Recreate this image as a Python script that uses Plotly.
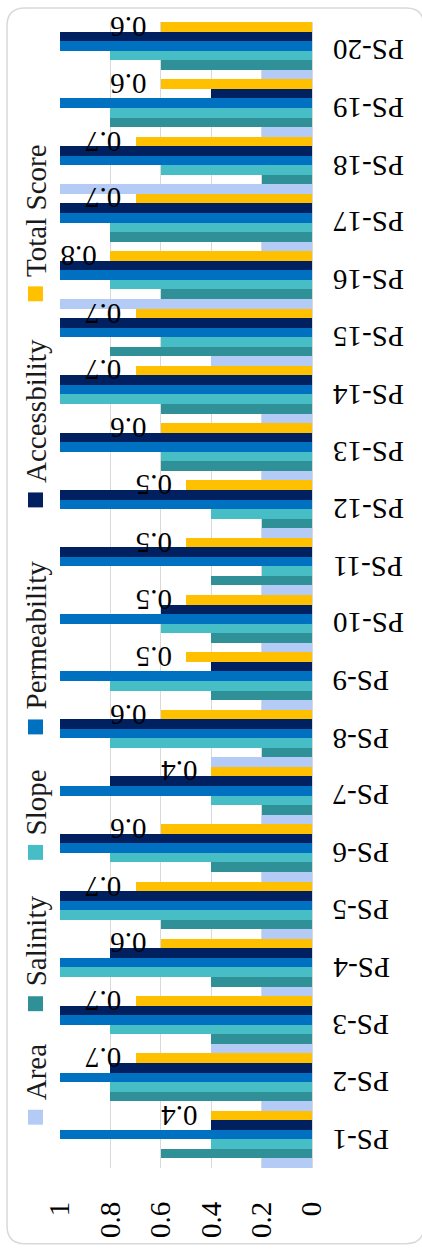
import plotly.graph_objects as go

# Site categories and criterion scores
sites = [f"PS-{i}" for i in range(1, 21)]

area = [0.2, 0.2, 0.4, 0.2, 0.2, 0.2, 0.2, 0.4, 0.2, 0.2,
        0.2, 0.2, 0.2, 0.2, 0.4, 1.0, 0.2, 1.0, 0.2, 0.2]
salinity = [0.6, 0.8, 0.4, 0.4, 0.6, 0.4, 0.2, 0.2, 0.4, 0.4,
            0.4, 0.2, 0.6, 0.6, 0.8, 0.6, 0.8, 0.2, 0.8, 0.6]
slope = [0.4, 0.8, 0.8, 1.0, 1.0, 0.8, 0.4, 0.8, 0.8, 0.6,
         0.2, 0.4, 0.6, 1.0, 0.6, 0.8, 0.8, 0.6, 0.8, 0.8]
permeability = [1.0, 1.0, 1.0, 1.0, 1.0, 1.0, 1.0, 1.0, 1.0, 1.0,
                1.0, 1.0, 1.0, 1.0, 1.0, 1.0, 1.0, 1.0, 1.0, 1.0]
accessibility = [0.4, 0.8, 1.0, 0.8, 1.0, 1.0, 0.8, 1.0, 0.4, 0.6,
                 1.0, 1.0, 1.0, 1.0, 1.0, 1.0, 1.0, 1.0, 0.4, 1.0]
total_score = [0.4, 0.7, 0.7, 0.6, 0.7, 0.6, 0.4, 0.6, 0.5, 0.5,
               0.5, 0.5, 0.6, 0.7, 0.7, 0.8, 0.7, 0.7, 0.6, 0.6]

series_names = ["Area", "Salinity", "Slope", "Permeability", "Accessbility", "Total Score"]
series_values = [area, salinity, slope, permeability, accessibility, total_score]
series_colors = ["#B4CBF6", "#2F9098", "#47BDC6", "#0070C0", "#002060", "#FFC000"]

value_ticks = [0, 0.2, 0.4, 0.6, 0.8, 1]
value_tick_text = ["0", "0.2", "0.4", "0.6", "0.8", "1"]

W, H = 422, 1250
ML, MR, MT, MB = 60, 110, 22, 77
PW, PH = W - ML - MR, H - MT - MB

FONT = "Liberation Serif"
FS = 29


def px(xp):
    return (xp - ML) / PW


def py(yp):
    return (H - MB - yp) / PH


fig = go.Figure()
for name, vals, col in zip(series_names, series_values, series_colors):
    fig.add_trace(go.Bar(
        y=sites, x=vals, name=name, orientation="h",
        marker=dict(color=col, line=dict(width=0)),
        showlegend=False,
    ))

annotations = []
n = len(series_names)
for i, (s, v) in enumerate(zip(sites, total_score)):
    # value labels just past the end of each Total Score bar, upside down
    annotations.append(dict(
        x=v, y=i + (n - 1 - (n - 1) / 2) / n, xref="x", yref="y",
        text=f"{v:g}", showarrow=False, textangle=180,
        xanchor="right", yanchor="middle", xshift=-12,
        font=dict(family=FONT, size=FS, color="#000000"),
    ))
    # category labels to the right of the plot, upside down
    annotations.append(dict(
        x=px(331), y=s, xref="paper", yref="y",
        text=s, showarrow=False, textangle=180,
        xanchor="left", yanchor="middle",
        font=dict(family=FONT, size=FS, color="#000000"),
    ))

# legend drawn as rotated entries down the left edge
legend_centers = [1122, 1008, 856, 730, 502, 295]
shapes = []
for name, col, cy in zip(series_names, series_colors, legend_centers):
    shapes.append(dict(
        type="rect", xref="paper", yref="paper",
        x0=px(28), x1=px(43), y0=py(cy + 7.5), y1=py(cy - 7.5),
        fillcolor=col, line=dict(width=0),
    ))
    annotations.append(dict(
        x=px(36), y=py(cy - 15), xref="paper", yref="paper",
        text=name, showarrow=False, textangle=-90,
        xanchor="center", yanchor="bottom",
        font=dict(family=FONT, size=FS, color="#1a1a1a"),
    ))

# rounded chart frame
L, T, R, B, r = 7, 8, 424, 1249, 18
frame = (f"M {px(L + r)} {py(T)} L {px(R - r)} {py(T)} "
         f"Q {px(R)} {py(T)} {px(R)} {py(T + r)} "
         f"L {px(R)} {py(B - r)} Q {px(R)} {py(B)} {px(R - r)} {py(B)} "
         f"L {px(L + r)} {py(B)} Q {px(L)} {py(B)} {px(L)} {py(B - r)} "
         f"L {px(L)} {py(T + r)} Q {px(L)} {py(T)} {px(L + r)} {py(T)} Z")
shapes.append(dict(type="path", xref="paper", yref="paper", path=frame,
                   line=dict(color="#D9D9D9", width=1.5), layer="below"))

fig.update_layout(
    width=W, height=H, autosize=False,
    margin=dict(l=ML, r=MR, t=MT, b=MB, pad=0),
    paper_bgcolor="white", plot_bgcolor="white",
    barmode="group", bargap=0, bargroupgap=0,
    shapes=shapes, annotations=annotations,
    font=dict(family=FONT, size=FS, color="#000000"),
    xaxis=dict(
        range=[1, 0], tickvals=value_ticks, ticktext=value_tick_text,
        tickangle=-90, showgrid=True, gridcolor="#D9D9D9", gridwidth=1,
        zeroline=True, zerolinecolor="#D9D9D9", zerolinewidth=1,
        showline=False, ticks="", ticklabelstandoff=27,
        tickfont=dict(family=FONT, size=FS, color="#000000"),
    ),
    yaxis=dict(
        type="category", categoryorder="array", categoryarray=sites,
        range=[-0.5, len(sites) - 0.5], side="right",
        showgrid=False, zeroline=False, showline=False, ticks="",
        showticklabels=False,
    ),
)

fig.write_html("out.html")
